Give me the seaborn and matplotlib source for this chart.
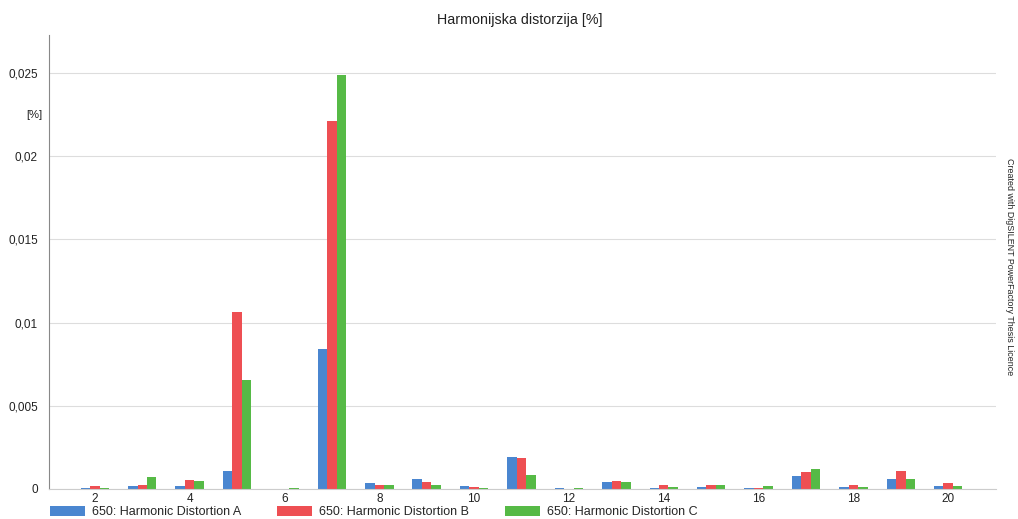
import pandas as pd
import numpy as np
import seaborn as sns
import matplotlib.pyplot as plt
from matplotlib.ticker import FuncFormatter, MultipleLocator, AutoMinorLocator
from matplotlib.patches import Patch

# Harmonic order and distortion per phase [%]
harmonics = list(range(2, 21))
dist_a = [0.00005, 0.00016, 0.00016, 0.00106, 0.00002, 0.00841, 0.00034, 0.00062, 0.00016, 0.00194,
          0.00004, 0.00042, 0.00008, 0.00012, 0.00008, 0.00078, 0.00012, 0.00058, 0.00018]
dist_b = [0.00020, 0.00026, 0.00054, 0.01064, 0.00002, 0.02210, 0.00022, 0.00044, 0.00012, 0.00184,
          0.00001, 0.00048, 0.00022, 0.00026, 0.00004, 0.00102, 0.00026, 0.00108, 0.00036]
dist_c = [0.00003, 0.00074, 0.00046, 0.00655, 0.00006, 0.02488, 0.00024, 0.00022, 0.00008, 0.00086,
          0.00006, 0.00042, 0.00012, 0.00026, 0.00018, 0.00118, 0.00012, 0.00058, 0.00018]
series_names = ["650: Harmonic Distortion A", "650: Harmonic Distortion B", "650: Harmonic Distortion C"]
colors = ["#4a86d0", "#ee4f53", "#56ba46"]

df = pd.DataFrame({"h": harmonics * 3,
                   "val": dist_a + dist_b + dist_c,
                   "series": np.repeat(series_names, len(harmonics))})

sns.set_style("white")
plt.rcParams["font.family"] = ["Liberation Sans", "DejaVu Sans"]

fig = plt.figure(figsize=(10.18, 5.19), dpi=100)
ax = fig.add_axes([0.048, 0.058, 0.930, 0.875])

sns.barplot(data=df, x="h", y="val", hue="series", palette=colors, native_scale=True,
            width=0.6, gap=0, saturation=1, edgecolor="none", linewidth=0, ax=ax, legend=False)

ax.set_xlim(1.03, 21.0)
ax.set_ylim(0, 0.0273)
ax.set_xticks(range(2, 21, 2))
ax.yaxis.set_major_locator(MultipleLocator(0.005))
ax.yaxis.set_minor_locator(AutoMinorLocator(4))
ax.yaxis.set_major_formatter(FuncFormatter(lambda v, p: "0" if v == 0 else f"{v:g}".replace(".", ",")))
ax.grid(axis="y", color="#dddddd", linewidth=0.8)
ax.set_axisbelow(True)
ax.tick_params(axis="y", which="major", length=0, labelsize=8.5, pad=8, colors="#222222")
ax.tick_params(axis="y", which="minor", length=3, direction="in", color="#cccccc")
ax.tick_params(axis="x", length=0, labelsize=8.5, pad=3, colors="#222222")
ax.set_xlabel("")
ax.set_ylabel("")
for s in ["top", "right"]:
    ax.spines[s].set_visible(False)
ax.spines["left"].set_color("#888888")
ax.spines["bottom"].set_color("#cccccc")

ax.text(-0.007, 0.0225, "[%]", transform=ax.get_yaxis_transform(), ha="right", va="center",
        fontsize=8, color="#222222")
fig.text(0.511, 0.962, "Harmonijska distorzija [%]", ha="center", va="center", fontsize=10.3, color="#222222")
fig.text(0.992, 0.486, "Created with DigSILENT PowerFactory Thesis Licence", rotation=-90,
         ha="center", va="center", fontsize=6.4, color="#222222")

handles = [Patch(facecolor=c, edgecolor="none") for c in colors]
fig.legend(handles, series_names, loc="lower left", bbox_to_anchor=(0.038, -0.02), ncol=3,
           frameon=False, fontsize=9, handlelength=2.8, handleheight=0.9, columnspacing=2.9,
           handletextpad=0.55)

fig.savefig("out.png", dpi=100)
